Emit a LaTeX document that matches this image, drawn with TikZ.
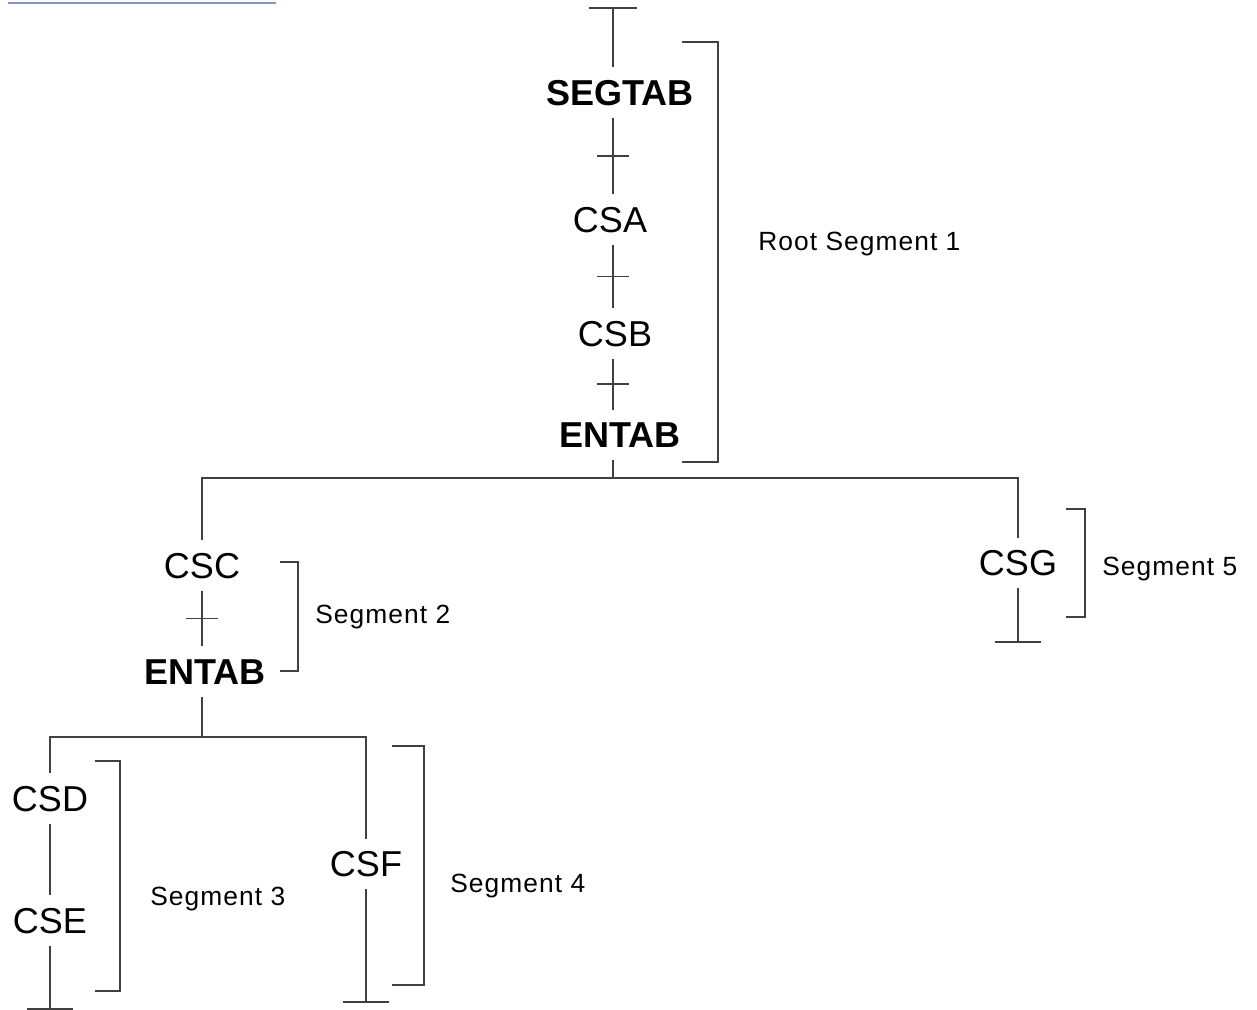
\documentclass[tikz,border=0pt]{standalone}
\usepackage{fontspec}
\setmainfont{Liberation Sans}
\newfontfamily\segfont[LetterSpace=4]{Liberation Sans}
\usepackage{tikz}
\usetikzlibrary{positioning}
\definecolor{linkblue}{RGB}{128,150,200}

\begin{document}
\begin{tikzpicture}[
		x=0.02cm, y=-0.02cm,
		link/.style={
			draw=black!75,
			line width=1.1pt
		},
		csect/.style={
			font=\fontsize{20.5}{24}\selectfont,
			inner xsep=2pt,
			inner ysep=0.24cm,
			text height=14.7pt,
			text depth=0pt
		},
		tabname/.style={
			csect,
			font=\fontsize{20.5}{24}\selectfont\bfseries
		},
		seglabel/.style={
			anchor=west,
			inner sep=0pt,
			font=\segfont\fontsize{15}{18}\selectfont,
			text height=10.7pt,
			text depth=0pt
		}
		]
		\useasboundingbox (0,0) rectangle (1257,1010);
		
		% cut link at the top
		\draw[linkblue, line width=1.1pt] (8,3) -- (276,3);
		
		% Root segment
		\coordinate (top) at (613,8);
		\node[tabname] (segtab) at (620,92.5) {SEGTAB};
		\node[csect] (csa) at (610,219.5) {CSA};
		\node[csect] (csb) at (615,333.5) {CSB};
		\node[tabname] (entab) at (620,435) {ENTAB};
		\coordinate (root) at (613,478);
		
		\draw[link] ([xshift=-0.48cm]top) -- ([xshift=0.48cm]top);
		\draw[link] (top) -- (top |- segtab.north);
		\draw[link] (top |- segtab.south) -- coordinate (t1) (top |- csa.north);
		\draw[link] (top |- csa.south) -- coordinate (t2) (top |- csb.north);
		\draw[link] (top |- csb.south) -- coordinate (t3) (top |- entab.north);
		\draw[link] (top |- entab.south) -- (root);
		\foreach \t in {t1,t2,t3}
		\draw[link] ([xshift=-0.32cm]\t) -- ([xshift=0.32cm]\t);
		
		% Second level
		\node[csect] (csc) at (202,565.5) {CSC};
		\node[tabname] (entabb) at (205,671.5) {ENTAB};
		\node[csect] (csg) at (1018,563) {CSG};
		\coordinate (csgend) at (1018,642);
		\coordinate (fork) at (202,737);
		
		\draw[link] (csc.north) |- (root) -| (csg.north);
		\draw[link] (csc.south) -- coordinate (t4) (csc.south |- entabb.north);
		\draw[link] ([xshift=-0.32cm]t4) -- ([xshift=0.32cm]t4);
		\draw[link] (csc.south |- entabb.south) -- (fork);
		\draw[link] (csg.south) -- (csgend);
		\draw[link] ([xshift=-0.46cm]csgend) -- ([xshift=0.46cm]csgend);
		
		% Third level
		\node[csect] (csd) at (50,798.5) {CSD};
		\node[csect] (cse) at (50,920.5) {CSE};
		\node[csect] (csf) at (366,864) {CSF};
		\coordinate (cseend) at (50,1009);
		\coordinate (csfend) at (366,1002);
		
		\draw[link] (csd.north) |- (fork) -| (csf.north);
		\draw[link] (csd.south) -- (cse.north);
		\draw[link] (cse.south) -- (cseend);
		\draw[link] (csf.south) -- (csfend);
		\foreach \e in {cseend,csfend}
		\draw[link] ([xshift=-0.46cm]\e) -- ([xshift=0.46cm]\e);
		
		% Segment brackets
		\foreach \xl/\xr/\yt/\yb in {682/718/42/462, 280/298/562/671, 1066/1085/509/617, 95/120/761/991, 392/424/746/985}
		\draw[link] (\xl,\yt) -| (\xr,\yb) -- (\xl,\yb);
		
		\node[seglabel] (root1) at (758,241) {Root Segment 1};
		\node[seglabel] (seg2) at (315,614.5) {Segment 2};
		\node[seglabel] (seg5) at (1102,566) {Segment 5};
		\node[seglabel] (seg3) at (150,896) {Segment 3};
		\node[seglabel] (seg4) at (450,883) {Segment 4};
		
	\end{tikzpicture}
\end{document}
